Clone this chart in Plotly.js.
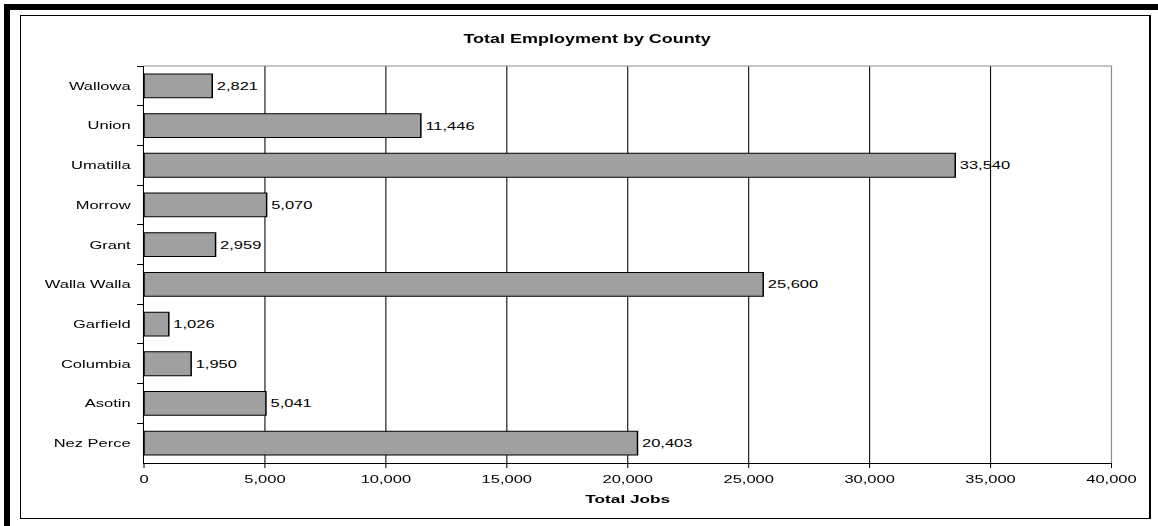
<!DOCTYPE html>
<html>
<head>
<meta charset="utf-8">
<script src="https://cdn.plot.ly/plotly-3.0.1.min.js"></script>
<style>
  html, body { margin:0; padding:0; background:#fff; }
  body { width:1158px; height:526px; overflow:hidden; position:relative; }
  #topbar { position:absolute; left:4px; top:4px; width:1154px; height:6px; background:#000; }
  #leftbar { position:absolute; left:4px; top:4px; width:6px; height:522px; background:#000; }
  #frame { position:absolute; left:20px; top:15px; width:1131px; height:504px; box-sizing:border-box;
           border:1px solid #000; border-right-width:2px; }
  #chart { position:absolute; left:0; top:0; width:772px; height:526px; }
</style>
</head>
<body>
<div id="topbar"></div>
<div id="leftbar"></div>
<div id="frame"></div>
<div id="chart"></div>
<script>
// Counties listed top to bottom as in the chart
const counties = ["Wallowa", "Union", "Umatilla", "Morrow", "Grant", "Walla Walla", "Garfield", "Columbia", "Asotin", "Nez Perce"];
const totalJobs = [2821, 11446, 33540, 5070, 2959, 25600, 1026, 1950, 5041, 20403];
const chartTitle = "Total Employment by County";
const xAxisTitle = "Total Jobs";

const FONT = "Liberation Sans, Arial, sans-serif";
const SX = 1.5; // horizontal stretch of the original picture

const trace = {
  type: "bar",
  orientation: "h",
  y: counties,
  x: totalJobs,
  marker: { color: "#a0a0a0", line: { color: "#000", width: 1 } },
  texttemplate: "%{x:,}",
  textposition: "outside",
  cliponaxis: false,
  textfont: { family: FONT, size: 11, color: "#000" },
  hoverinfo: "none"
};

const layout = {
  width: 772,
  height: 526,
  margin: { l: 96, r: 31, t: 66, b: 63, pad: 0 },
  paper_bgcolor: "rgba(0,0,0,0)",
  plot_bgcolor: "#fff",
  showlegend: false,
  bargap: 0.4,
  font: { family: FONT, size: 11, color: "#000" },
  title: {
    text: chartTitle,
    font: { family: FONT, size: 12, color: "#000", weight: "bold" },
    x: 0.507, xref: "container", xanchor: "center",
    y: 1 - 38.5 / 526, yref: "container", yanchor: "middle"
  },
  xaxis: {
    range: [0, 40000],
    tick0: 0, dtick: 5000,
    tickformat: ",d",
    ticks: "outside", ticklen: 4, tickwidth: 0.7, tickcolor: "#000",
    ticklabelstandoff: 2,
    showline: true, linecolor: "#000", linewidth: 1,
    showgrid: true, gridcolor: "#000", gridwidth: 0.7,
    zeroline: false,
    tickfont: { family: FONT, size: 11, color: "#000" },
    title: { text: xAxisTitle, font: { family: FONT, size: 11.5, color: "#000", weight: "bold" }, standoff: 10 },
    fixedrange: true
  },
  yaxis: {
    type: "category",
    autorange: "reversed",
    tickson: "boundaries",
    ticks: "outside", ticklen: 4, tickwidth: 1, tickcolor: "#000",
    showline: true, linecolor: "#000", linewidth: 0.7,
    showgrid: false, zeroline: false,
    tickfont: { family: FONT, size: 11, color: "#000" },
    ticklabelstandoff: 6,
    fixedrange: true
  },
  shapes: [
    { type: "line", xref: "paper", yref: "paper", x0: 0, x1: 1, y0: 1, y1: 1, layer: "above",
      line: { color: "#8c8c8c", width: 1 } },
    { type: "line", xref: "paper", yref: "paper", x0: 1, x1: 1, y0: 0, y1: 1, layer: "above",
      line: { color: "#8c8c8c", width: 0.8 } }
  ]
};

Plotly.newPlot("chart", [trace], layout, { staticPlot: true, displayModeBar: false }).then(function () {
  const el = document.getElementById("chart");
  el.style.transformOrigin = "0 0";
  el.style.transform = "scaleX(" + SX + ")";
});
</script>
</body>
</html>
